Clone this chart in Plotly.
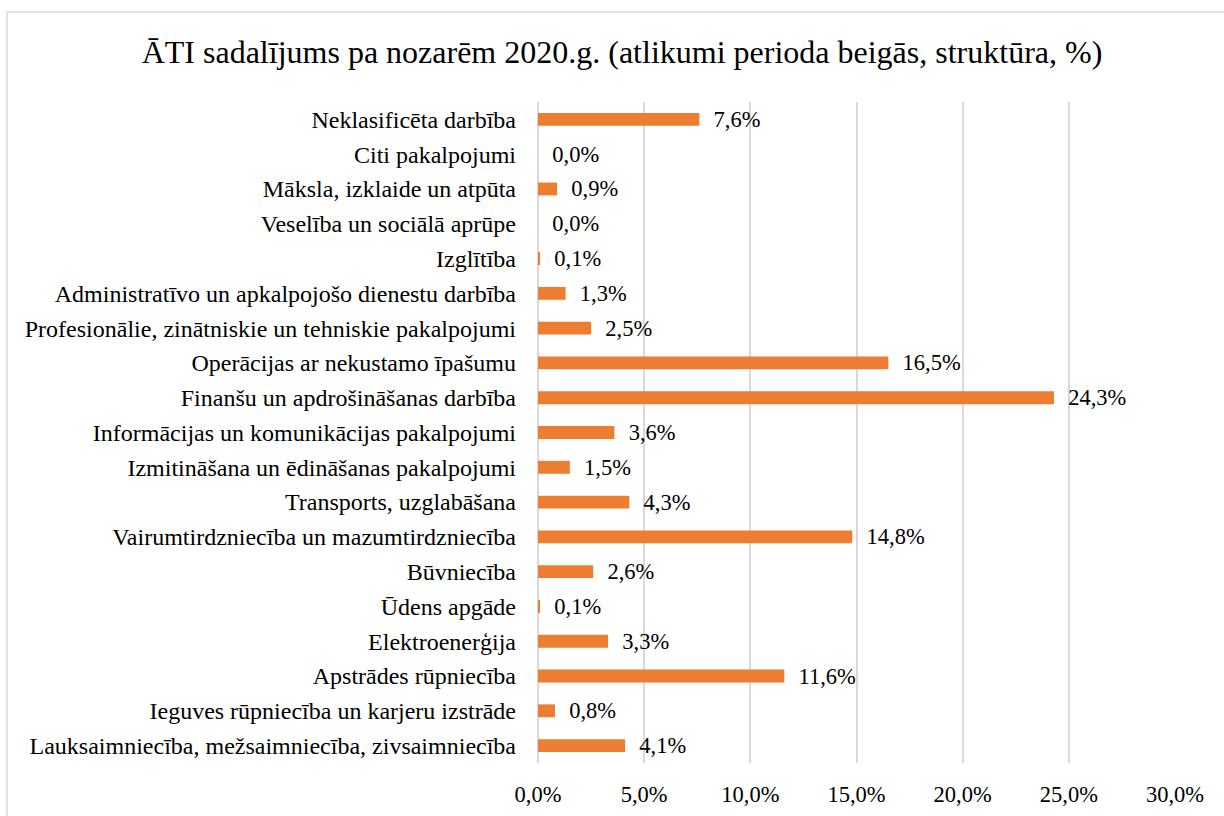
import plotly.graph_objects as go

categories = [
    "Lauksaimniecība, mežsaimniecība, zivsaimniecība",
    "Ieguves rūpniecība un karjeru izstrāde",
    "Apstrādes rūpniecība",
    "Elektroenerģija",
    "Ūdens apgāde",
    "Būvniecība",
    "Vairumtirdzniecība un mazumtirdzniecība",
    "Transports, uzglabāšana",
    "Izmitināšana un ēdināšanas pakalpojumi",
    "Informācijas un komunikācijas pakalpojumi",
    "Finanšu un apdrošināšanas darbība",
    "Operācijas ar nekustamo īpašumu",
    "Profesionālie, zinātniskie un tehniskie pakalpojumi",
    "Administratīvo un apkalpojošo dienestu darbība",
    "Izglītība",
    "Veselība un sociālā aprūpe",
    "Māksla, izklaide un atpūta",
    "Citi pakalpojumi",
    "Neklasificēta darbība",
]
values = [4.1, 0.8, 11.6, 3.3, 0.06, 2.6, 14.8, 4.3, 1.5, 3.6, 24.3, 16.5, 2.5, 1.3, 0.1, 0.0, 0.9, 0.0, 7.6]
x_ticks = [0, 5, 10, 15, 20, 25, 30]
x_tick_labels = ["0,0%", "5,0%", "10,0%", "15,0%", "20,0%", "25,0%", "30,0%"]

title = "ĀTI sadalījums pa nozarēm 2020.g. (atlikumi perioda beigās, struktūra, %)"
FONT = "Liberation Serif, Times New Roman, serif"

fig = go.Figure(go.Bar(
    x=values, y=categories, orientation="h",
    marker=dict(color="#ED7D31", line=dict(width=0)),
    texttemplate="\u00a0\u00a0%{x:.1f}%",
    textposition="outside",
    constraintext="none",
    textfont=dict(family=FONT, size=22.5, color="#000000"),
    cliponaxis=False,
    hoverinfo="skip",
))

fig.update_layout(
    separators=", ",
    plot_bgcolor="white", paper_bgcolor="white",
    margin=dict(l=538, r=49, t=102, b=53),
    bargap=0.63,
    showlegend=False,
    title=dict(text=title, x=622 / 1224, xref="container", xanchor="center",
               y=1 - 52 / 816, yref="container", yanchor="middle",
               font=dict(family=FONT, size=32, color="#000000")),
    font=dict(family=FONT, color="#000000"),
    xaxis=dict(range=[0, 30], tickvals=x_ticks, ticktext=x_tick_labels,
               showgrid=True, gridcolor="#d9d9d9", gridwidth=1.5,
               zeroline=True, zerolinecolor="#d9d9d9", zerolinewidth=1.5,
               showline=False, ticks="", tickfont=dict(family=FONT, size=22.5),
               ticklabelstandoff=15, automargin=False),
    yaxis=dict(type="category", showgrid=False, showline=False, ticks="",
               tickfont=dict(family=FONT, size=24), ticklabelstandoff=21,
               automargin=False),
    shapes=[dict(type="rect", xref="paper", yref="paper",
                 x0=(7 - 538) / 637, x1=1.2, y0=-0.2, y1=(763 - 12) / 661,
                 line=dict(color="#d9d9d9", width=1.5), fillcolor="rgba(0,0,0,0)",
                 layer="below")],
)

post = (
    "document.documentElement.style.margin='0';"
    "document.body.style.margin='0';"
    "document.body.style.overflow='hidden';"
    "var gd=document.getElementById('{plot_id}');"
    "gd.style.width='100vw';gd.style.height='100vh';"
    "Plotly.Plots.resize(gd);"
)

fig.write_html("out.html", post_script=post, config={"displayModeBar": False})
